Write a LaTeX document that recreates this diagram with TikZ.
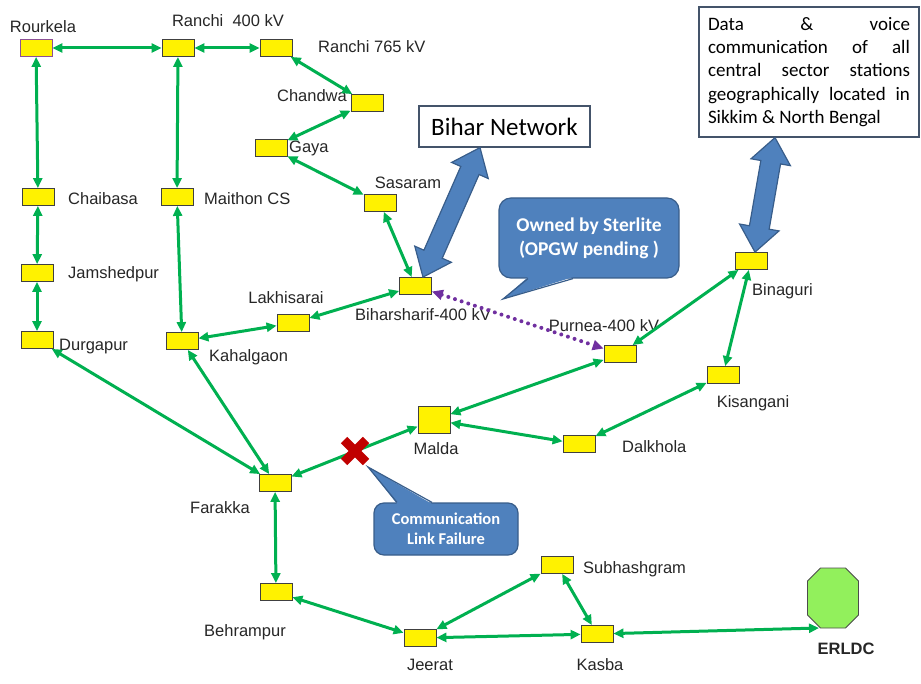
\documentclass[tikz,border=0pt]{standalone}
\usepackage{fontspec}
\setmainfont{Liberation Sans}
\newfontfamily\calibri{Carlito}
\usetikzlibrary{arrows.meta,calc}
\definecolor{linkgreen}{RGB}{0,176,80}
\definecolor{opgwpurple}{RGB}{112,48,160}
\definecolor{calloutblue}{RGB}{79,129,189}
\definecolor{calloutedge}{RGB}{56,93,138}
\definecolor{boxedge}{RGB}{68,84,106}
\definecolor{failred}{RGB}{192,0,0}
\definecolor{erldcgreen}{RGB}{146,240,92}
\definecolor{rourkelaedge}{RGB}{140,80,150}

\begin{document}
\begin{tikzpicture}[
    x=1pt, y=-1pt, % one unit per pixel, y downwards
    station/.style={rectangle,draw=black!75,fill=yellow,minimum width=32pt,minimum height=17pt,inner sep=0pt,line width=0.8pt},
    bigstation/.style={station,minimum height=27pt},
    stname/.style={font=\fontsize{16.5}{19}\selectfont,text=black!85,inner sep=0pt},
    link/.style={<->,>={Triangle[length=10pt,width=9pt]},line width=3pt,draw=linkgreen},
    pending/.style={<->,>={Triangle[length=11pt,width=10pt]},line width=4pt,draw=opgwpurple,line cap=round,dash pattern=on 0pt off 7pt},
    note/.style={rectangle,draw=boxedge,line width=1.2pt,fill=white},
    callout/.style={rectangle,rounded corners=12pt,draw=calloutedge,line width=1.2pt,fill=calloutblue,text=white,align=center},
    blockarrow/.style={fill=calloutblue,draw=calloutedge,line width=1.2pt,line join=miter},
    failmark/.style={draw=failred,line width=9pt}
]
    \useasboundingbox (0,0) rectangle (921,684);

    % Stations
    \node[station,draw=rourkelaedge] (rourkela) at (36,48) {};
    \node[station] (ranchiA) at (178,48) {};
    \node[station] (ranchiB) at (276,48) {};
    \node[station] (chandwa) at (367,103) {};
    \node[station] (gaya) at (271,148) {};
    \node[station] (sasaram) at (380,203) {};
    \node[station] (chaibasa) at (38,197) {};
    \node[station] (maithon) at (177,197) {};
    \node[station] (jamshedpur) at (37,273) {};
    \node[station] (durgapur) at (37,340) {};
    \node[station] (kahalgaon) at (182,341) {};
    \node[station] (lakhisarai) at (293,323) {};
    \node[station] (biharsharif) at (415.5,286) {};
    \node[bigstation] (malda) at (434,420) {};
    \node[station] (farakka) at (275,483) {};
    \node[station] (binaguri) at (751,261) {};
    \node[station] (purnea) at (620,354) {};
    \node[station] (kisangani) at (723,375) {};
    \node[station] (dalkhola) at (579,444) {};
    \node[station] (behrampur) at (276,592) {};
    \node[station] (jeerat) at (420,638) {};
    \node[station] (subhashgram) at (557,565) {};
    \node[station] (kasba) at (597,634) {};
    \node[rectangle,inner sep=0pt,outer sep=0pt,minimum width=51pt,minimum height=60pt] (erldc) at (833,598) {};
    \draw[draw=black!70,fill=erldcgreen,line width=0.8pt]
        ([xshift=13pt]erldc.north west) -- ([xshift=-13pt]erldc.north east) -- ([yshift=-13pt]erldc.north east)
        -- ([yshift=13pt]erldc.south east) -- ([xshift=-13pt]erldc.south east) -- ([xshift=13pt]erldc.south west)
        -- ([yshift=13pt]erldc.south west) -- ([yshift=-13pt]erldc.north west) -- cycle;

    % Station names
    \node[stname,anchor=base] (rourkelaname) at (43,33) {Rourkela};
    \node[stname,anchor=base] (ranchiAname) at (228,27) {Ranchi\ \ 400 kV};
    \node[stname,anchor=base west] (ranchiBname) at (318,53) {Ranchi 765 kV};
    \node[stname,anchor=base east] (chandwaname) at (347,102) {Chandwa};
    \node[stname,anchor=base west] (gayaname) at (289,153) {Gaya};
    \node[stname,anchor=base] (sasaramname) at (408,189) {Sasaram};
    \node[stname,anchor=base west] (chaibasaname) at (68,205) {Chaibasa};
    \node[stname,anchor=base west] (maithonname) at (204,205) {Maithon CS};
    \node[stname,anchor=base west] (jamshedpurname) at (68,279) {Jamshedpur};
    \node[stname,anchor=base west] (durgapurname) at (59,351) {Durgapur};
    \node[stname,anchor=base west] (kahalgaonname) at (209,362) {Kahalgaon};
    \node[stname,anchor=base] (lakhisarainame) at (286,304) {Lakhisarai};
    \node[stname,anchor=base west] (biharsharifname) at (355,321) {Biharsharif-400 kV};
    \node[stname,anchor=base] (maldaname) at (436,454) {Malda};
    \node[stname,anchor=base] (farakkaname) at (220,513) {Farakka};
    \node[stname,anchor=base] (behrampurname) at (245,636) {Behrampur};
    \node[stname,anchor=base] (jeeratname) at (430,670) {Jeerat};
    \node[stname,anchor=base west] (subhashgramname) at (583,573) {Subhashgram};
    \node[stname,anchor=base] (kasbaname) at (600,670) {Kasba};
    \node[stname,anchor=base,font=\fontsize{16.5}{19}\selectfont\bfseries] (erldcname) at (846,654) {ERLDC};
    \node[stname,anchor=base] (purneaname) at (604,332) {Purnea-400 kV};
    \node[stname,anchor=base west] (binaguriname) at (752,296) {Binaguri};
    \node[stname,anchor=base] (kisanganiname) at (753,407) {Kisangani};
    \node[stname,anchor=base west] (dalkholaname) at (622,453) {Dalkhola};

    % Text boxes and callouts
    \node[note,minimum width=171pt,minimum height=41pt,font=\calibri\fontsize{25}{30}\selectfont] (bihar) at (504.5,126.5) {Bihar Network};
    \node[note,inner xsep=9pt,minimum height=130pt,align=left,font=\calibri\fontsize{19}{23.3}\selectfont] (data) at (809,72)
        {\makebox[202pt][s]{Data \& voice}\\\makebox[202pt][s]{communication of all}\\\makebox[202pt][s]{central sector stations}\\\makebox[202pt][s]{geographically located in}\\Sikkim \& North Bengal};
    \node[callout,minimum width=180pt,minimum height=80pt,font=\calibri\bfseries\fontsize{19.5}{24}\selectfont] (sterlite) at (589,238) {Owned by Sterlite\\(OPGW pending )};
    \node[callout,rounded corners=10pt,minimum width=144pt,minimum height=52pt,font=\calibri\bfseries\fontsize{16.5}{20}\selectfont] (commfail) at (446,529) {Communication\\Link Failure};

    % Callout pointers
    \coordinate (sterlitetip) at (503,299);
    \coordinate (commtip) at (368,467);
    \fill[calloutblue] ([xshift=-61pt,yshift=1.5pt]sterlite.south) -- (sterlitetip) -- ([xshift=-16pt,yshift=1.5pt]sterlite.south) -- cycle;
    \draw[calloutedge,line width=1.2pt] ([xshift=-61pt]sterlite.south) -- (sterlitetip) -- ([xshift=-16pt]sterlite.south);
    \fill[calloutblue] ([xshift=-49pt,yshift=-1.5pt]commfail.north) -- (commtip) -- ([xshift=-14pt,yshift=-1.5pt]commfail.north) -- cycle;
    \draw[calloutedge,line width=1.2pt] ([xshift=-49pt]commfail.north) -- (commtip) -- ([xshift=-14pt]commfail.north);

    % Links
    \draw[link] (rourkela) -- (ranchiA);
    \draw[link] (ranchiA) -- (ranchiB);
    \draw[link] (ranchiB) -- (chandwa);
    \draw[link] (chandwa) -- (gaya);
    \draw[link] (gaya) -- (sasaram);
    \draw[link] (sasaram) -- (biharsharif);
    \draw[link] (rourkela) -- (chaibasa);
    \draw[link] (chaibasa) -- (jamshedpur);
    \draw[link] (jamshedpur) -- (durgapur);
    \draw[link] (ranchiA) -- (maithon);
    \draw[link] (maithon) -- (kahalgaon);
    \draw[link] (kahalgaon) -- (lakhisarai);
    \draw[link] (lakhisarai) -- (biharsharif);
    \draw[link] (durgapur) -- (farakka);
    \draw[link] (kahalgaon) -- (farakka);
    \draw[link] (farakka) -- (malda);
    \draw[link] (malda) -- (purnea);
    \draw[link] (malda) -- (dalkhola);
    \draw[link] (dalkhola) -- (kisangani);
    \draw[link] (kisangani) -- (binaguri);
    \draw[link] (purnea) -- (binaguri);
    \draw[link] (farakka) -- (behrampur);
    \draw[link] (behrampur) -- (jeerat);
    \draw[link] (jeerat) -- (subhashgram);
    \draw[link] (jeerat) -- (kasba);
    \draw[link] (subhashgram) -- (kasba);
    \draw[link] (kasba) -- (erldc.-115);
    \draw[pending] (biharsharif) -- (purnea);

    % Failed link
    \coordinate (fail) at (355,451);
    \draw[failmark] (fail) +(-11,-11) -- +(11,11) (fail) +(-11,11) -- +(11,-11);

    % Block arrows to the text boxes
    \coordinate (biharlow) at ([xshift=7.5pt]biharsharif.north);
    \coordinate (biharhigh) at ([xshift=-24.5pt]bihar.south);
    \coordinate (datalow) at ([xshift=4pt]binaguri.north);
    \coordinate (datahigh) at ([xshift=-34pt]data.south);
    \foreach \lo/\hi in {biharlow/biharhigh,datalow/datahigh}
        \draw[blockarrow] (\lo) -- ($(\lo)!25pt!(\hi)!20pt!90:(\hi)$) -- ($(\lo)!25pt!(\hi)!10pt!90:(\hi)$)
            -- ($(\hi)!25pt!(\lo)!10pt!-90:(\lo)$) -- ($(\hi)!25pt!(\lo)!20pt!-90:(\lo)$) -- (\hi)
            -- ($(\hi)!25pt!(\lo)!20pt!90:(\lo)$) -- ($(\hi)!25pt!(\lo)!10pt!90:(\lo)$)
            -- ($(\lo)!25pt!(\hi)!10pt!-90:(\hi)$) -- ($(\lo)!25pt!(\hi)!20pt!-90:(\hi)$) -- cycle;
\end{tikzpicture}
\end{document}
